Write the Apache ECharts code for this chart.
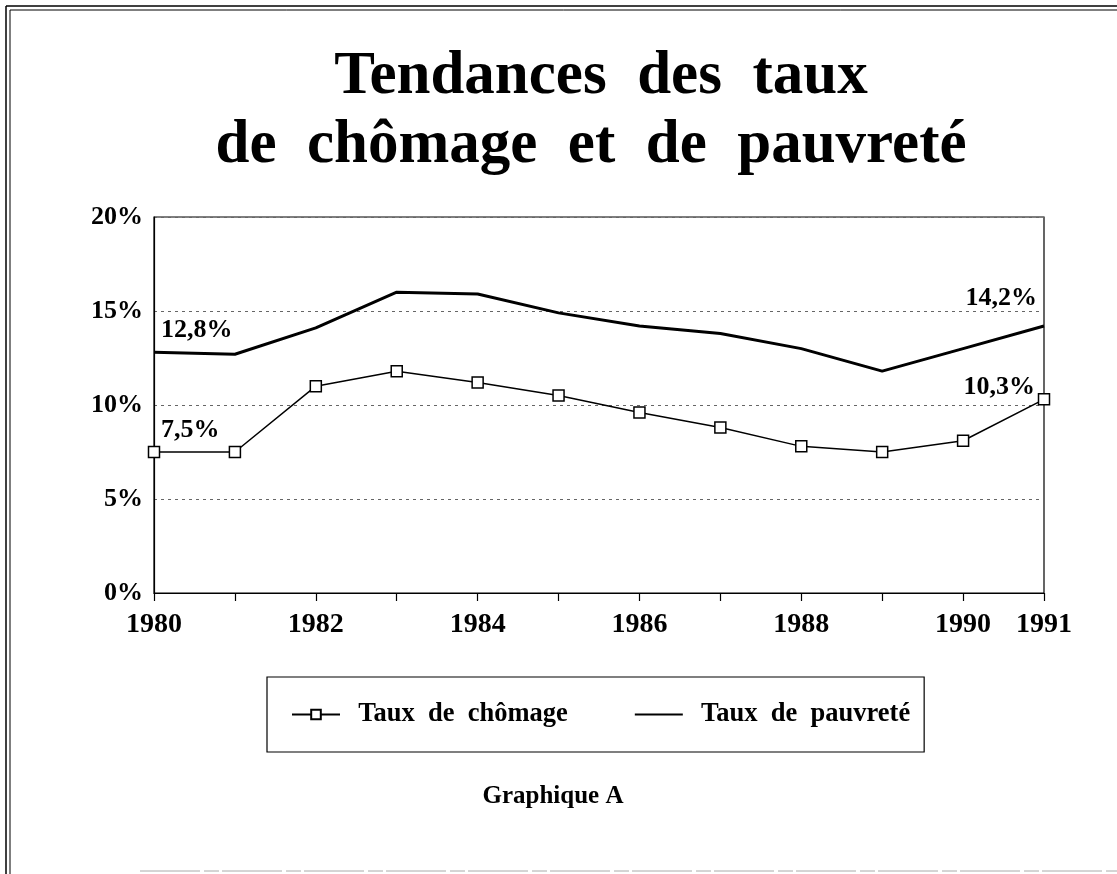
<!DOCTYPE html>
<html>
<head>
<meta charset="utf-8">
<script src="https://cdn.jsdelivr.net/npm/echarts@6/dist/echarts.min.js"></script>
<style>
html,body{margin:0;padding:0;background:#fff;}
#chart{width:1117px;height:874px;}
</style>
</head>
<body>
<div id="chart"></div>
<script>
// ---- data ----
var years = ['1980','1981','1982','1983','1984','1985','1986','1987','1988','1989','1990','1991'];
var chomage = [7.5, 7.5, 11.0, 11.8, 11.2, 10.5, 9.6, 8.8, 7.8, 7.5, 8.1, 10.3];
var pauvrete = [12.8, 12.7, 14.1, 16.0, 15.9, 14.9, 14.2, 13.8, 13.0, 11.8, 13.0, 14.2];
var yTicks = [0, 5, 10, 15, 20];
var seriesNames = ['Taux de chômage', 'Taux de pauvreté'];
var titleLines = ['Tendances des taux', 'de chômage et de pauvreté'];
var subtitle = 'Graphique A';

var SERIF = '"Liberation Serif", "Times New Roman", serif';
function fmt(v){ return v.toFixed(1).replace('.', ',') + '%'; }
function spaced(s){ return s.replace(/ /g, '\u00a0\u00a0'); }
var last = years.length - 1;

var labelBase = {show:true, position:'top', distance:0, verticalAlign:'bottom',
  fontFamily:SERIF, fontWeight:'bold', fontSize:26, color:'#000'};

var chart = echarts.init(document.getElementById('chart'), null, {renderer:'canvas'});
var option = {
  backgroundColor:'#fff',
  animation:false,
  graphic:[
    {type:'line', shape:{x1:6,y1:6,x2:6,y2:874}, style:{stroke:'#000',lineWidth:1.5}},
    {type:'line', shape:{x1:10,y1:10,x2:10,y2:874}, style:{stroke:'#000',lineWidth:1}},
    {type:'line', shape:{x1:6,y1:6,x2:1117,y2:6}, style:{stroke:'#000',lineWidth:1.5}},
    {type:'line', shape:{x1:10,y1:10,x2:1117,y2:10}, style:{stroke:'#000',lineWidth:1}},
    {type:'line', shape:{x1:140,y1:871,x2:1117,y2:871}, style:{stroke:'#aaa',lineWidth:1, lineDash:[60,4,15,3]}},
    {type:'text', x:601, y:77, style:{text:spaced(titleLines[0]), align:'center', verticalAlign:'middle', fontFamily:SERIF, fontWeight:'bold', fontSize:61, fill:'#000'}},
    {type:'text', x:591, y:146, style:{text:spaced(titleLines[1]), align:'center', verticalAlign:'middle', fontFamily:SERIF, fontWeight:'bold', fontSize:61, fill:'#000'}},
    {type:'text', x:553, y:797, style:{text:subtitle, align:'center', verticalAlign:'middle', fontFamily:SERIF, fontWeight:'bold', fontSize:25, fill:'#000'}}
  ],
  grid:{left:154, right:73, top:217, bottom:281, show:true, borderColor:'#000', borderWidth:1.2, containLabel:false},
  legend:{
    left:267, top:677, orient:'horizontal',
    padding:[24, 14, 24, 24],
    borderColor:'#000', borderWidth:1.2,
    itemWidth:48, itemHeight:12, itemGap:66,
    formatter:function(n){ return '\u00a0\u00a0' + spaced(n); },
    textStyle:{fontFamily:SERIF, fontWeight:'bold', fontSize:26.5, color:'#000'},
    data:[
      {name:seriesNames[0]},
      {name:seriesNames[1], itemStyle:{color:'rgba(0,0,0,0)', borderColor:'rgba(0,0,0,0)', borderWidth:0, opacity:0}}
    ]
  },
  xAxis:{
    type:'category', data:years, boundaryGap:false,
    axisLine:{lineStyle:{color:'#000', width:1.2}},
    axisTick:{show:true, interval:0, length:8, inside:false, lineStyle:{color:'#000', width:1.2}},
    axisLabel:{
      interval:function(i){ return i % 2 === 0 || i === last; },
      margin:18, fontFamily:SERIF, fontWeight:'bold', fontSize:28, color:'#000'
    },
    splitLine:{show:false}
  },
  yAxis:{
    type:'value', min:yTicks[0], max:yTicks[yTicks.length-1], interval:5,
    axisLine:{show:true, lineStyle:{color:'#000', width:1.2}},
    axisTick:{show:false},
    axisLabel:{formatter:function(v){ return v + '%'; }, margin:11, fontFamily:SERIF, fontWeight:'bold', fontSize:26, color:'#000'},
    splitLine:{show:true, lineStyle:{color:'#666', width:1, type:[3,4]}}
  },
  series:[
    {
      name:seriesNames[0], type:'line', data:chomage,
      symbol:'rect', symbolSize:11, showSymbol:true,
      lineStyle:{color:'#000', width:1.5},
      itemStyle:{color:'#fff', borderColor:'#000', borderWidth:1.5},
      z:3,
      markPoint:{
        symbol:'circle', symbolSize:0, silent:true,
        data:[
          {coord:[years[0], chomage[0]], value:chomage[0],
           label:Object.assign({}, labelBase, {align:'left', offset:[7,-9], formatter:fmt(chomage[0])})},
          {coord:[years[last], chomage[last]], value:chomage[last],
           label:Object.assign({}, labelBase, {align:'right', offset:[-9,1], formatter:fmt(chomage[last])})}
        ]
      }
    },
    {
      name:seriesNames[1], type:'line', data:pauvrete,
      symbol:'none', showSymbol:false,
      lineStyle:{color:'#000', width:3},
      itemStyle:{color:'#000'},
      z:2,
      markPoint:{
        symbol:'circle', symbolSize:0, silent:true,
        data:[
          {coord:[years[0], pauvrete[0]], value:pauvrete[0],
           label:Object.assign({}, labelBase, {align:'left', offset:[7,-9], formatter:fmt(pauvrete[0])})},
          {coord:[years[last], pauvrete[last]], value:pauvrete[last],
           label:Object.assign({}, labelBase, {align:'right', offset:[-7,-15], formatter:fmt(pauvrete[last])})}
        ]
      }
    }
  ]
};
chart.setOption(option);
</script>
</body>
</html>
